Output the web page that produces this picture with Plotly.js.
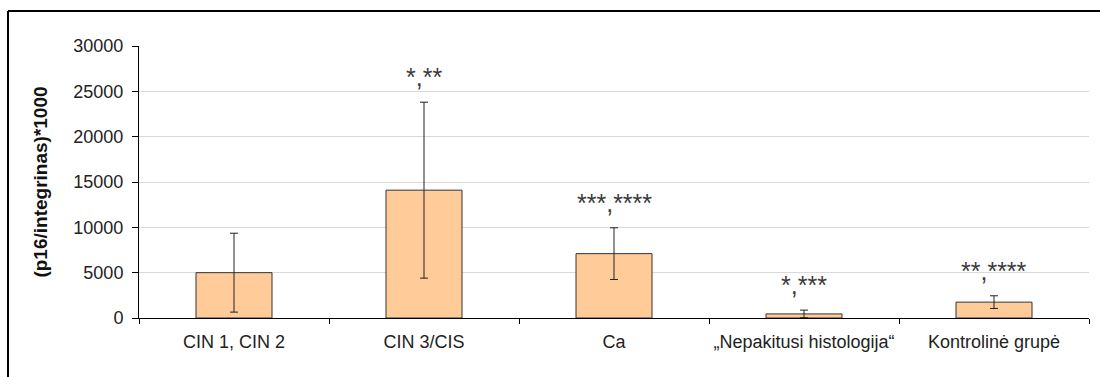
<!DOCTYPE html>
<html>
<head>
<meta charset="utf-8">
<script src="https://cdn.plot.ly/plotly-3.0.1.min.js"></script>
<style>
html,body{margin:0;padding:0;background:#fff;}
#chart{width:1100px;height:377px;}
</style>
</head>
<body>
<div id="chart"></div>
<script>
const categories = ["CIN 1, CIN 2", "CIN 3/CIS", "Ca", "„Nepakitusi histologija“", "Kontrolinė grupė"];
const values = [5000, 14100, 7100, 450, 1750];
const errors = [4350, 9700, 2850, 420, 700];
const marks = ["", "*,**", "***,****", "*,***", "**,****"];
const yTicks = [0, 5000, 10000, 15000, 20000, 25000, 30000];

const FONT = "Liberation Sans, Arial, sans-serif";

const trace = {
  type: "bar",
  x: categories,
  y: values,
  marker: {color: "#FFCC99", line: {color: "#333333", width: 1}},
  error_y: {type: "data", array: errors, visible: true, color: "#222222", thickness: 1, width: 4},
  hoverinfo: "none"
};

const annotations = categories.map((c, i) => ({
  x: c, y: values[i] + errors[i], xref: "x", yref: "y",
  text: marks[i], showarrow: false, yanchor: "bottom", yshift: 9,
  font: {family: FONT, size: 25, color: "#3a3a3a"}
})).filter(a => a.text);

const layout = {
  width: 1100, height: 377,
  margin: {l: 139, r: 11, t: 46, b: 59},
  paper_bgcolor: "#ffffff", plot_bgcolor: "#ffffff",
  showlegend: false,
  bargap: 0.6,
  font: {family: FONT, color: "#222222"},
  xaxis: {
    type: "category", range: [-0.5, 4.5], tickangle: 0, automargin: false,
    tickson: "boundaries", ticks: "outside", ticklen: 5, tickcolor: "#000", tickwidth: 1,
    ticklabelstandoff: 7,
    showline: true, linecolor: "#000", linewidth: 1, showgrid: false,
    tickfont: {family: FONT, size: 18, color: "#222222"}, zeroline: false
  },
  yaxis: {
    range: [0, 30000], tickvals: yTicks, ticktext: yTicks.map(String), automargin: false,
    ticks: "outside", ticklen: 6, tickcolor: "#000", tickwidth: 1, ticklabelstandoff: 5,
    showline: true, linecolor: "#000", linewidth: 1,
    showgrid: true, gridcolor: "#d9d9d9", gridwidth: 1, zeroline: false,
    tickfont: {family: FONT, size: 18, color: "#222222"},
    title: {text: "(p16/integrinas)*1000", standoff: 20, font: {family: FONT, size: 19, color: "#111111", weight: "bold"}}
  },
  annotations: annotations,
  shapes: [
    {type: "line", xref: "paper", yref: "paper", x0: (8 - 139) / 950, x1: 1.02, y0: 1 + (46 - 11) / 272, y1: 1 + (46 - 11) / 272, line: {color: "#000", width: 2}},
    {type: "line", xref: "paper", yref: "paper", x0: (8 - 139) / 950, x1: (8 - 139) / 950, y0: 1 + (46 - 11) / 272, y1: -0.3, line: {color: "#000", width: 2}}
  ]
};

Plotly.newPlot("chart", [trace], layout, {displayModeBar: false, staticPlot: true});
</script>
</body>
</html>
